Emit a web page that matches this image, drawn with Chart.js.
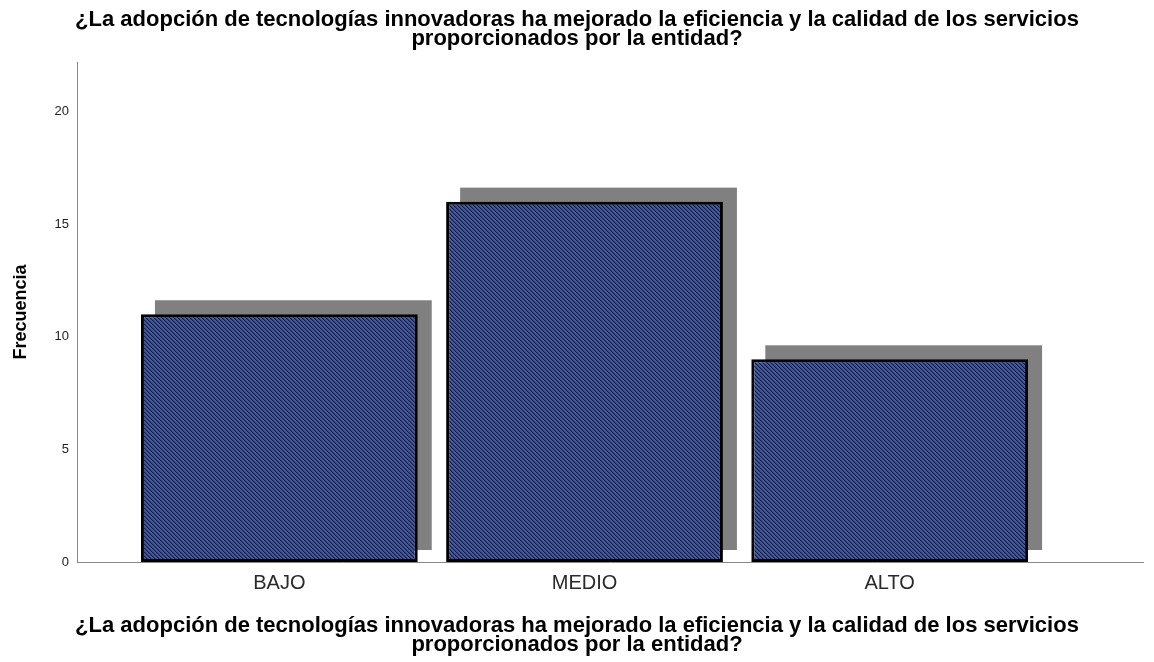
<!DOCTYPE html>
<html>
<head>
<meta charset="utf-8">
<script src="https://cdn.jsdelivr.net/npm/chart.js@4.4.1/dist/chart.umd.min.js"></script>
<style>
  html, body { margin: 0; padding: 0; background: #fff; }
  #wrap { width: 1154px; height: 662px; }
</style>
</head>
<body>
<div id="wrap"><canvas id="chart" width="1154" height="662"></canvas></div>
<script>
const categories = ["BAJO", "MEDIO", "ALTO"];
const frequencies = [11, 16, 9];
const yTicks = [0, 5, 10, 15, 20];
const chartTitle = [
  "¿La adopción de tecnologías innovadoras ha mejorado la eficiencia y la calidad de los servicios",
  "proporcionados por la entidad?",
];
const yTitle = "Frecuencia";

const FONT = "'Liberation Sans', Arial, sans-serif";

const canvas = document.getElementById("chart");
const ctx = canvas.getContext("2d");

// small tile with the dark "\" stripes over blue
function makeHatch() {
  const tile = document.createElement("canvas");
  tile.width = 4;
  tile.height = 4;
  const g = tile.getContext("2d");
  const img = g.createImageData(4, 4);
  const cols = [[20, 26, 56], [48, 66, 134], [64, 90, 172], [64, 90, 172]];
  for (let y = 0; y < 4; y++) {
    for (let x = 0; x < 4; x++) {
      const d = (((x - y) % 4) + 4) % 4;
      const i = (y * 4 + x) * 4;
      img.data[i] = cols[d][0];
      img.data[i + 1] = cols[d][1];
      img.data[i + 2] = cols[d][2];
      img.data[i + 3] = 255;
    }
  }
  g.putImageData(img, 0, 0);
  return ctx.createPattern(tile, "repeat");
}

// grey drop shadow behind each bar, offset up and to the right
const shadowPlugin = {
  id: "barShadow",
  afterLayout(chart) {
    // titles are centred on the whole canvas, not on the padded box
    chart.boxes.forEach((b) => {
      if (!b.axis && b.fullSize) {
        b.left = 0;
        b.right = chart.width;
        b.width = chart.width;
      }
    });
  },
  beforeDatasetsDraw(chart) {
    const c = chart.ctx;
    const meta = chart.getDatasetMeta(0);
    c.save();
    c.fillStyle = "#808080";
    meta.data.forEach((bar) => {
      const p = bar.getProps(["x", "y", "base", "width"], true);
      c.fillRect(p.x - p.width / 2 + 14, p.y - 14, p.width, p.base - p.y + 2);
    });
    c.restore();
  },
};

new Chart(ctx, {
  type: "bar",
  data: {
    datasets: [
      {
        label: yTitle,
        data: frequencies.map((v, i) => ({ x: i + 1, y: v })),
        backgroundColor: makeHatch(),
        borderColor: "#000",
        borderWidth: 3,
        borderSkipped: false,
        categoryPercentage: 1,
        barPercentage: 0.907,
      },
    ],
  },
  options: {
    responsive: false,
    animation: false,
    events: [],
    devicePixelRatio: 1,
    layout: { padding: { left: 0, right: 11, top: 0, bottom: 0 } },
    plugins: {
      legend: { display: false },
      tooltip: { enabled: false },
      title: {
        display: true,
        text: chartTitle,
        color: "#000",
        font: { family: FONT, size: 22, weight: "bold", lineHeight: "19px" },
        padding: { top: 10, bottom: 14 },
      },
      subtitle: {
        display: true,
        position: "bottom",
        text: chartTitle,
        color: "#000",
        font: { family: FONT, size: 22, weight: "bold", lineHeight: "19px" },
        padding: { top: 0, bottom: 7.5 },
      },
    },
    scales: {
      x: {
        type: "linear",
        offset: false,
        bounds: "data",
        min: 0.337,
        max: 3.83,
        afterBuildTicks: (axis) => {
          axis.ticks = categories.map((c, i) => ({ value: i + 1 }));
        },
        afterFit: (s) => {
          s.height = 54.5;
        },
        ticks: {
          callback: (v) => categories[Math.round(v) - 1],
          autoSkip: false,
          maxRotation: 0,
          color: "#2a2a2a",
          font: { family: FONT, size: 20 },
          padding: 9,
        },
        grid: { display: false, drawTicks: false, offset: false },
        border: { color: "#888", width: 1 },
      },
      y: {
        min: 0,
        max: 22.2,
        afterBuildTicks: (axis) => {
          axis.ticks = yTicks.map((v) => ({ value: v }));
        },
        afterFit: (s) => {
          s.width = 77;
        },
        ticks: {
          color: "#222",
          font: { family: FONT, size: 13 },
          padding: 8,
        },
        grid: { display: false, drawTicks: false },
        border: { color: "#888", width: 1 },
        title: {
          display: true,
          text: yTitle,
          color: "#000",
          font: { family: FONT, size: 18, weight: "bold" },
          padding: { top: 10, bottom: 0 },
        },
      },
    },
  },
  plugins: [shadowPlugin],
});
</script>
</body>
</html>
